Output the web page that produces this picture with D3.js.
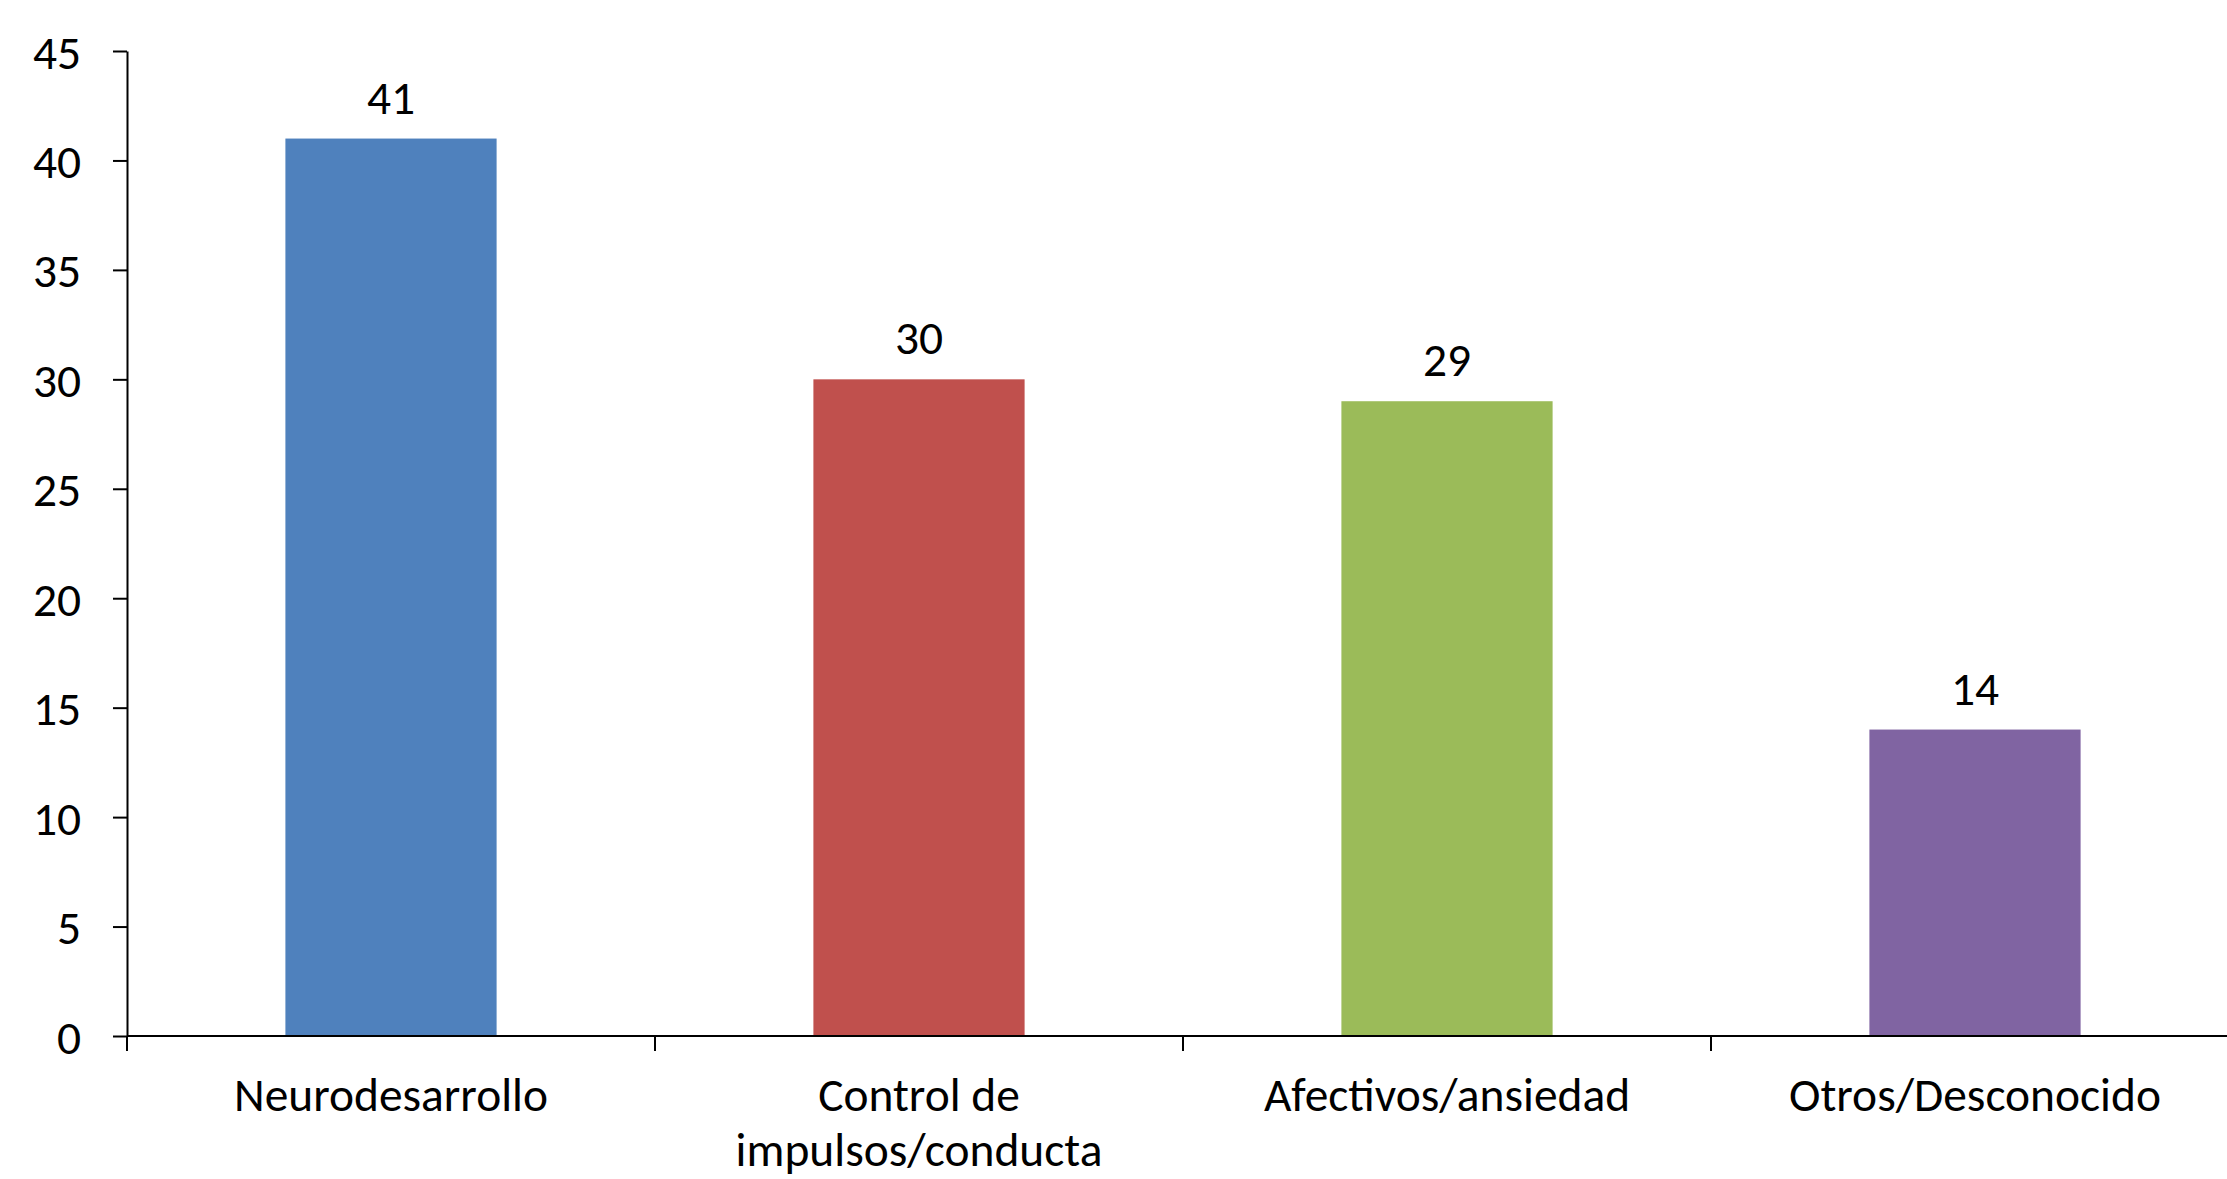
<!DOCTYPE html>
<html>
<head>
<meta charset="utf-8">
<script src="https://cdn.jsdelivr.net/npm/d3@7"></script>
<style>
  html, body { margin: 0; padding: 0; background: #fff; }
  svg { display: block; }
  text { font-family: Carlito, Lato, "Open Sans", sans-serif; fill: #000; }
</style>
</head>
<body>
<svg id="chart" width="2227" height="1179"></svg>
<script>
// Categories and counts per diagnostic group
const categories = ["Neurodesarrollo", "Control de impulsos/conducta", "Afectivos/ansiedad", "Otros/Desconocido"];
const values = [41, 30, 29, 14];
const barColors = ["#4F81BD", "#C0504D", "#9BBB59", "#8064A2"];
const yTicks = [0, 5, 10, 15, 20, 25, 30, 35, 40, 45];

const svg = d3.select("#chart");

// Plot frame
const plotLeft = 127, plotRight = 2239, plotTop = 51, plotBottom = 1036;

const x = d3.scaleBand()
  .domain(categories)
  .range([plotLeft, plotRight])
  .paddingInner(0.6)
  .paddingOuter(0.3);

const y = d3.scaleLinear()
  .domain([0, 45])
  .range([plotBottom, plotTop]);

// Pick a font size so the text sets at the intended width
const probe = svg.append("text").attr("font-size", 47).text("Otros/Desconocido");
const fontSize = 47 * 372 / probe.node().getComputedTextLength();
probe.remove();

// Bars
svg.append("g")
  .selectAll("rect")
  .data(values)
  .join("rect")
  .attr("x", (d, i) => x(categories[i]))
  .attr("y", d => y(d))
  .attr("width", x.bandwidth())
  .attr("height", d => y(0) - y(d))
  .attr("fill", (d, i) => barColors[i]);

// Value labels above bars
svg.append("g")
  .selectAll("text")
  .data(values)
  .join("text")
  .attr("x", (d, i) => x(categories[i]) + x.bandwidth() / 2)
  .attr("y", d => y(d) - 25)
  .attr("text-anchor", "middle")
  .attr("font-size", fontSize)
  .text(d => d);

// Y axis
const yAxis = svg.append("g")
  .attr("transform", `translate(${plotLeft},0)`)
  .call(d3.axisLeft(y).tickValues(yTicks).tickSize(14).tickSizeOuter(0).tickPadding(32));
yAxis.select(".domain").attr("stroke", "#000").attr("stroke-width", 2);
yAxis.selectAll(".tick line").attr("stroke", "#000").attr("stroke-width", 2);
yAxis.selectAll(".tick text")
  .attr("font-size", fontSize)
  .attr("font-family", null)
  .attr("fill", "#000")
  .attr("dy", "0.36em");

// X axis line with tick marks at the category boundaries
const half = (x.step() - x.bandwidth()) / 2;
const boundaries = categories.map(c => x(c) - half)
  .concat([x(categories[categories.length - 1]) + x.bandwidth() + half]);

svg.append("line")
  .attr("x1", plotLeft).attr("x2", plotRight)
  .attr("y1", y(0)).attr("y2", y(0))
  .attr("stroke", "#000").attr("stroke-width", 2);

svg.append("g")
  .selectAll("line")
  .data(boundaries)
  .join("line")
  .attr("x1", d => d).attr("x2", d => d)
  .attr("y1", y(0)).attr("y2", y(0) + 15)
  .attr("stroke", "#000").attr("stroke-width", 2);

// Category labels, wrapped to the category width
const maxWidth = x.step() * 0.95;
const catLabels = svg.append("g")
  .selectAll("text")
  .data(categories)
  .join("text")
  .attr("text-anchor", "middle")
  .attr("font-size", fontSize)
  .attr("x", d => x(d) + x.bandwidth() / 2)
  .attr("y", y(0) + 75);

catLabels.each(function (d) {
  const t = d3.select(this);
  const cx = x(d) + x.bandwidth() / 2;
  const words = d.split(" ");
  let line = [];
  let tspan = t.append("tspan").attr("x", cx).attr("dy", 0);
  for (const w of words) {
    line.push(w);
    tspan.text(line.join(" "));
    if (tspan.node().getComputedTextLength() > maxWidth && line.length > 1) {
      line.pop();
      tspan.text(line.join(" "));
      line = [w];
      tspan = t.append("tspan").attr("x", cx).attr("dy", 55).text(w);
    }
  }
});
</script>
</body>
</html>
